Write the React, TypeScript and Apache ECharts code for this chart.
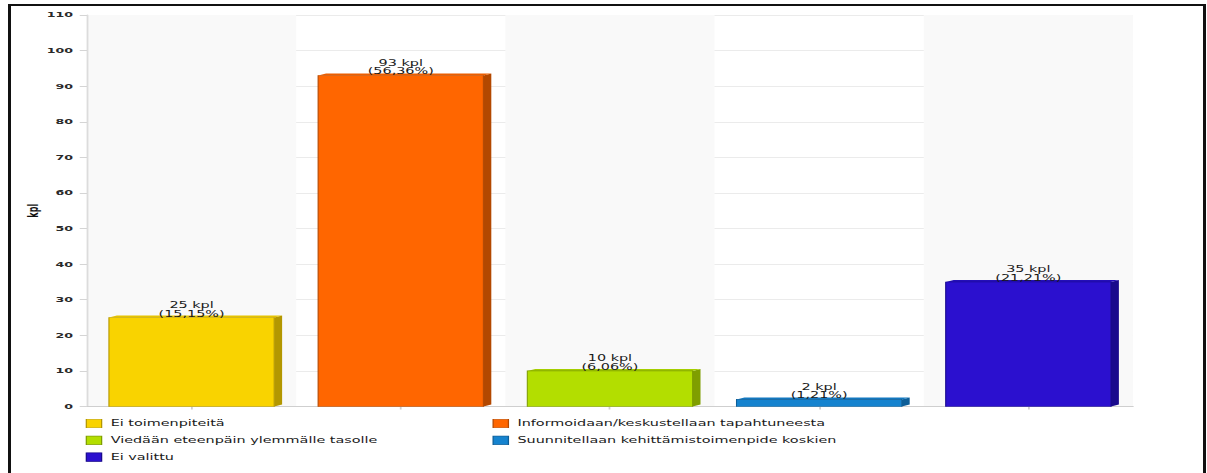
import React, { useEffect, useRef } from "react";
import * as echarts from "echarts";

// ---- data ----
const categories = [
  "Ei toimenpiteitä",
  "Informoidaan/keskustellaan tapahtuneesta",
  "Viedään eteenpäin ylemmälle tasolle",
  "Suunnitellaan kehittämistoimenpide koskien",
  "Ei valittu",
];
const counts = [25, 93, 10, 2, 35];
const percentLabels = ["15,15%", "56,36%", "6,06%", "1,21%", "21,21%"];
const yAxisName = "kpl";
const unitLabel = "kpl";
const yMin = 0;
const yMax = 110;
const yStep = 10;

const legendColumn1 = [categories[0], categories[2], categories[4]];
const legendColumn2 = [categories[1], categories[3]];

// ---- styling ----
const frontColors = ["#F9D300", "#FF6600", "#B3DE00", "#1583CF", "#2B10CF"];
const sideColors = ["#B39700", "#B34800", "#7F9E00", "#0D5E98", "#190A8C"];
const topColors = ["#E6C300", "#EC5E00", "#A5CE00", "#1278C0", "#240EB8"];

const FONT = "'DejaVu Sans', Verdana, sans-serif";
const SX = 1.8; // the reference image is stretched horizontally
const CW = 662;
const CH = 467;

export default function App() {
  const ref = useRef<HTMLDivElement>(null);

  useEffect(() => {
    if (!ref.current) return;
    const chart = echarts.init(ref.current, null, { renderer: "svg" });

    const colorOf: Record<string, number> = {};
    categories.forEach((c, i) => (colorOf[c] = i));

    const series = categories.map((name, si) => ({
      type: "custom",
      name,
      itemStyle: { color: frontColors[si] },
      encode: { x: 0, y: 1 },
      data: [[si, counts[si]]],
      renderItem: (params: any, api: any) => {
        const idx = api.value(0);
        const val = api.value(1);
        const topPt = api.coord([idx, val]);
        const basePt = api.coord([idx, 0]);
        const band = api.size([1, 0])[0];
        const w = band * 0.79;
        const d = 4.4;
        const dy = 2;
        const x0 = topPt[0] - w / 2;
        const x1 = topPt[0] + w / 2;
        const yt = topPt[1];
        const yb = basePt[1];
        return {
          type: "group",
          children: [
            {
              type: "polygon",
              shape: { points: [[x1, yt], [x1 + d, yt - dy], [x1 + d, yb - dy], [x1, yb]] },
              style: { fill: sideColors[si] },
            },
            {
              type: "polygon",
              shape: { points: [[x0, yt], [x0 + d, yt - dy], [x1 + d, yt - dy], [x1, yt]] },
              style: { fill: topColors[si] },
            },
            {
              type: "rect",
              shape: { x: x0, y: yt, width: w, height: yb - yt },
              style: { fill: frontColors[si], stroke: sideColors[si], lineWidth: 0.6 },
            },
            {
              type: "text",
              style: {
                text: `${val} ${unitLabel}\n(${percentLabels[si]})`,
                x: topPt[0],
                y: yt + 0.5,
                align: "center",
                verticalAlign: "bottom",
                fontSize: 8,
                lineHeight: 8.5,
                fontFamily: FONT,
                fill: "#1a1a1a",
              },
            },
          ],
        };
      },
    }));

    const legendBase = {
      orient: "vertical",
      top: 412.5,
      padding: 0,
      itemWidth: 8.5,
      itemHeight: 8.5,
      itemGap: 6.8,
      icon: "rect",
      textStyle: { fontFamily: FONT, fontSize: 8, lineHeight: 10, color: "#1a1a1a" },
    };

    chart.setOption({
      animation: false,
      backgroundColor: "transparent",
      grid: {
        left: 42.2,
        right: 38.7,
        top: 9,
        bottom: 66.5,
        containLabel: false,
        outerBoundsMode: "none",
      },
      xAxis: {
        type: "category",
        data: categories,
        boundaryGap: true,
        axisLabel: { show: false },
        axisLine: { show: true, lineStyle: { color: "#cfcfcf", width: 1 } },
        axisTick: { show: true, alignWithLabel: true, interval: 0, length: 3, lineStyle: { color: "#cfcfcf" } },
        splitLine: { show: false },
        splitArea: { show: true, interval: 0, areaStyle: { color: ["#f9f9f9", "rgba(255,255,255,0)"] } },
      },
      yAxis: {
        type: "value",
        min: yMin,
        max: yMax,
        interval: yStep,
        name: yAxisName,
        nameLocation: "middle",
        nameGap: 26,
        nameRotate: 90,
        nameMoveOverlap: false,
        nameTextStyle: { fontFamily: FONT, fontSize: 8, fontWeight: "bold", color: "#111" },
        axisLine: { show: true, lineStyle: { color: "#dcdcdc", width: 1 } },
        axisTick: { show: true, length: 4, lineStyle: { color: "#d5d5d5" } },
        axisLabel: { fontFamily: FONT, fontSize: 7, fontWeight: "bold", color: "#2a2a2a", margin: 7.8 },
        splitLine: { show: true, lineStyle: { color: "#ebebeb", width: 1 } },
      },
      legend: [
        {
          ...legendBase,
          left: 41.5,
          data: legendColumn1.map((name) => ({
            name,
            itemStyle: { borderColor: sideColors[colorOf[name]], borderWidth: 0.7 },
          })),
        },
        {
          ...legendBase,
          left: 267.5,
          data: legendColumn2.map((name) => ({
            name,
            itemStyle: { borderColor: sideColors[colorOf[name]], borderWidth: 0.7 },
          })),
        },
      ],
      series,
    });

    return () => chart.dispose();
  }, []);

  return (
    <div
      style={{
        position: "absolute",
        left: 8,
        top: 4,
        width: 1198,
        height: 469,
        boxSizing: "border-box",
        borderTop: "2px solid #111",
        borderLeft: "3px solid #111",
        borderRight: "3px solid #111",
        overflow: "hidden",
        background: "#fff",
      }}
    >
      <div
        ref={ref}
        style={{
          position: "absolute",
          left: 0,
          top: 0,
          width: CW,
          height: CH,
          transform: `scaleX(${SX})`,
          transformOrigin: "0 0",
        }}
      />
    </div>
  );
}
